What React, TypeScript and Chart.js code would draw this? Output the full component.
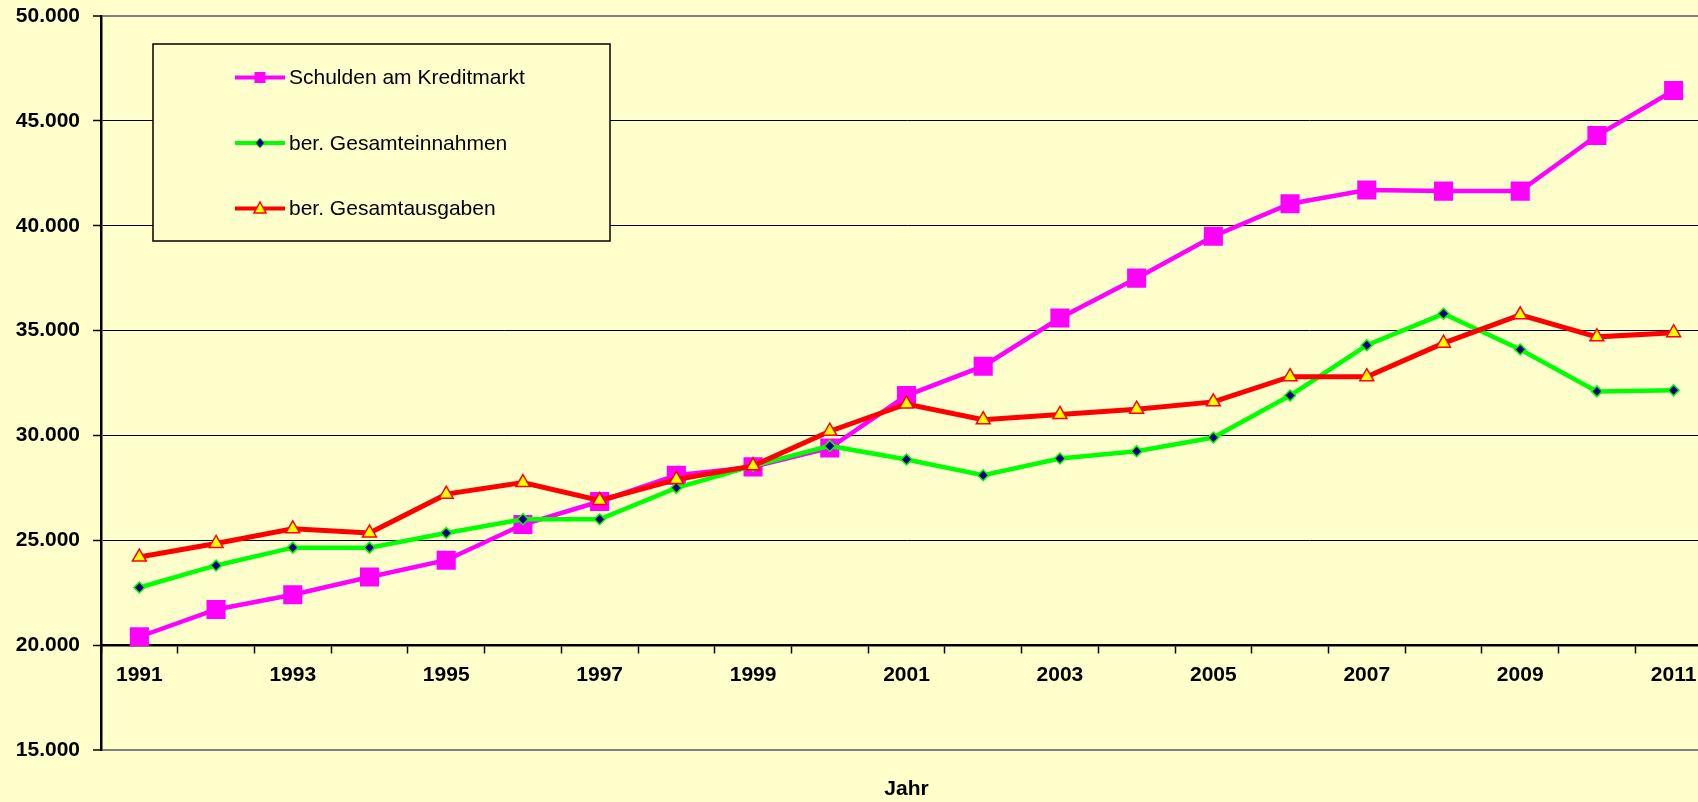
import React, { useEffect, useRef } from "react";
import { Chart, registerables } from "chart.js";

Chart.register(...registerables);

const years = ["1991","1992","1993","1994","1995","1996","1997","1998","1999","2000","2001","2002","2003","2004","2005","2006","2007","2008","2009","2010","2011"];
const schulden = [20400, 21700, 22400, 23250, 24050, 25750, 26850, 28100, 28500, 29400, 31900, 33300, 35600, 37500, 39500, 41050, 41700, 41650, 41650, 44300, 46450];
const einnahmen = [22750, 23800, 24650, 24650, 25350, 26000, 26000, 27500, 28550, 29500, 28850, 28100, 28900, 29250, 29900, 31900, 34300, 35800, 34100, 32100, 32150];
const ausgaben = [24200, 24850, 25550, 25350, 27200, 27750, 26900, 27900, 28550, 30200, 31500, 30750, 31000, 31250, 31600, 32800, 32800, 34400, 35750, 34700, 34900];
const seriesNames = ["Schulden am Kreditmarkt", "ber. Gesamteinnahmen", "ber. Gesamtausgaben"];
const axisTitle = "Jahr";
const yMin = 15000;
const yMax = 50000;
const yStep = 5000;

const FONT = "'Liberation Sans', Arial, sans-serif";
const BG = "#FFFFCC";

const fmt = (v: number) => String(v).replace(/\B(?=(\d{3})+(?!\d))/g, ".");

const legendPlugin = {
  id: "boxLegend",
  afterDraw(chart: any) {
    const ctx = chart.ctx;
    const a = chart.chartArea;
    const bx = a.left + 52;
    const by = 44;
    const bw = 457;
    const bh = 197;
    ctx.save();
    ctx.fillStyle = BG;
    ctx.fillRect(bx, by, bw, bh);
    ctx.strokeStyle = "#000";
    ctx.lineWidth = 1.5;
    ctx.strokeRect(bx, by, bw, bh);
    const rows = [77.5, 143, 208.5];
    const x0 = bx + 82;
    const x1 = bx + 132;
    const xm = (x0 + x1) / 2;
    const colors = ["#FF00FF", "#00FF00", "#FF0000"];
    rows.forEach((y, i) => {
      ctx.strokeStyle = colors[i];
      ctx.lineWidth = 4;
      ctx.beginPath();
      ctx.moveTo(x0, y);
      ctx.lineTo(x1, y);
      ctx.stroke();
      if (i === 0) {
        ctx.fillStyle = "#FF00FF";
        ctx.fillRect(xm - 5.5, y - 5.5, 11, 11);
      } else if (i === 1) {
        ctx.beginPath();
        ctx.moveTo(xm - 4.5, y);
        ctx.lineTo(xm, y - 5);
        ctx.lineTo(xm + 4.5, y);
        ctx.lineTo(xm, y + 5);
        ctx.closePath();
        ctx.fillStyle = "#000080";
        ctx.fill();
        ctx.strokeStyle = "#00FF00";
        ctx.lineWidth = 1;
        ctx.stroke();
      } else {
        ctx.beginPath();
        ctx.moveTo(xm, y - 6.5);
        ctx.lineTo(xm + 6, y + 4.5);
        ctx.lineTo(xm - 6, y + 4.5);
        ctx.closePath();
        ctx.fillStyle = "#FFFF00";
        ctx.fill();
        ctx.strokeStyle = "#FF0000";
        ctx.lineWidth = 1.5;
        ctx.stroke();
      }
      ctx.fillStyle = "#000";
      ctx.font = `21px ${FONT}`;
      ctx.textAlign = "left";
      ctx.textBaseline = "middle";
      ctx.fillText(seriesNames[i], x1 + 4, y + 1);
    });
    ctx.restore();
  },
};

export default function App() {
  const ref = useRef<HTMLCanvasElement>(null);
  useEffect(() => {
    if (!ref.current) return;
    Chart.defaults.font.family = FONT;
    const chart = new Chart(ref.current, {
      type: "line",
      data: {
        labels: years,
        datasets: [
          {
            label: seriesNames[0],
            data: schulden,
            borderColor: "#FF00FF",
            backgroundColor: "#FF00FF",
            borderWidth: 4.5,
            pointStyle: "rect",
            pointRadius: 13.5,
            pointBorderWidth: 0,
            pointBackgroundColor: "#FF00FF",
            pointBorderColor: "#FF00FF",
            tension: 0,
            order: 3,
          },
          {
            label: seriesNames[1],
            data: einnahmen,
            borderColor: "#00FF00",
            backgroundColor: "#000080",
            borderWidth: 4.5,
            pointStyle: "rectRot",
            pointRadius: 5.5,
            pointBorderWidth: 1.5,
            pointBackgroundColor: "#000080",
            pointBorderColor: "#00FF00",
            tension: 0,
            order: 2,
          },
          {
            label: seriesNames[2],
            data: ausgaben,
            borderColor: "#FF0000",
            backgroundColor: "#FFFF00",
            borderWidth: 5,
            pointStyle: "triangle",
            pointRadius: 8,
            pointBorderWidth: 1.5,
            pointBackgroundColor: "#FFFF00",
            pointBorderColor: "#FF0000",
            tension: 0,
            order: 1,
          },
        ],
      },
      options: {
        animation: false,
        responsive: false,
        maintainAspectRatio: false,
        layout: { padding: { top: 16, right: 18, left: 0, bottom: 0 } },
        plugins: { legend: { display: false }, tooltip: { enabled: false }, title: { display: false } },
        scales: {
          x: {
            type: "category",
            position: { y: 20000 } as any,
            offset: true,
            grid: {
              display: true,
              offset: true,
              drawOnChartArea: false,
              drawTicks: true,
              tickLength: 7,
              tickColor: "#000",
              tickWidth: 1.5,
              color: "#000",
            },
            border: { display: true, color: "#000", width: 2.5 },
            ticks: {
              autoSkip: false,
              maxRotation: 0,
              minRotation: 0,
              padding: 10,
              color: "#000",
              font: { size: 21, weight: "bold", family: FONT },
              callback: function (this: any, value: any, index: number) {
                return index % 2 === 0 ? years[index] : "";
              },
            },
          },
          x2: {
            type: "category",
            position: "bottom",
            labels: years,
            grid: { display: false },
            border: { display: false },
            ticks: { display: false },
            title: {
              display: true,
              text: axisTitle,
              color: "#000",
              font: { size: 21, weight: "bold", family: FONT },
              padding: { top: 0, bottom: 0 },
            },
            afterFit: (s: any) => {
              s.height = 52;
            },
          },
          y: {
            type: "linear",
            min: yMin,
            max: yMax,
            position: "left",
            ticks: {
              stepSize: yStep,
              padding: 13,
              color: "#000",
              font: { size: 21, weight: "bold", family: FONT },
              callback: (v: any) => fmt(Number(v)),
            },
            grid: {
              drawTicks: true,
              tickLength: 8,
              tickColor: "#000",
              tickWidth: 1.5,
              color: (c: any) => (c.tick && (c.tick.value === yMin || c.tick.value === yMax) ? "#808080" : "#000"),
              lineWidth: (c: any) => (c.tick && (c.tick.value === yMin || c.tick.value === yMax) ? 2 : 1),
            },
            border: { display: true, color: "#000", width: 2.5 },
            afterFit: (s: any) => {
              s.width = 101;
              s.paddingTop = 0;
              s.paddingBottom = 0;
            },
          },
        },
      },
      plugins: [legendPlugin],
    });
    return () => chart.destroy();
  }, []);

  return (
    <div
      style={{
        position: "fixed",
        left: 0,
        top: 0,
        width: 1698,
        height: 802,
        overflow: "hidden",
        background: BG,
      }}
    >
      <canvas ref={ref} width={1730} height={802} style={{ display: "block" }} />
    </div>
  );
}
